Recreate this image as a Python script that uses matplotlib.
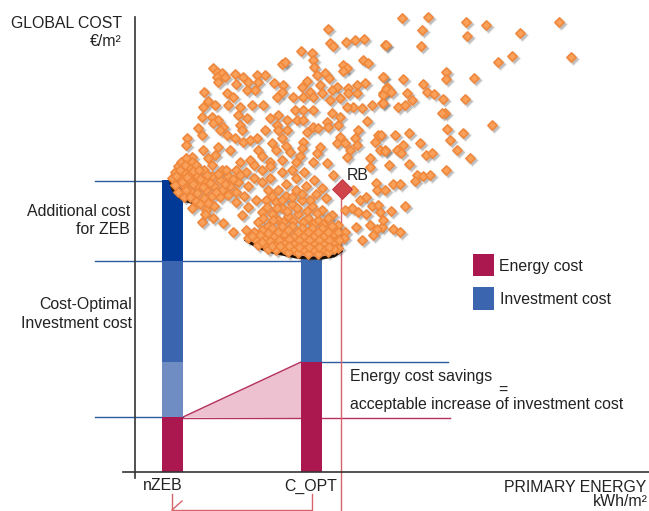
#!/usr/bin/env python3
"""Cost-optimal vs nZEB diagram: global cost cloud over primary energy."""
import matplotlib
matplotlib.use("Agg")
import matplotlib.pyplot as plt
from matplotlib.patches import Polygon, Rectangle

# -----------------------
# Data (image-like units, y grows downwards)
# -----------------------
cloud_sparse = [
    (328,29),(330,43),(333,46),(346,42),(355,40),(364,39),(385,45),(301,51),(312,53),(313,60),(314,67),
    (282,64),(285,62),(343,65),(347,68),(343,71),(363,60),(368,63),(383,77),(213,68),(217,72),(222,73),
    (217,77),(225,77),(218,82),(235,74),(236,84),(243,77),(248,82),(257,75),(265,75),(258,82),(247,90),
    (255,90),(274,83),(283,85),(282,92),(277,97),(307,81),(302,87),(317,75),(325,73),(329,78),(320,85),
    (337,87),(332,90),(310,92),(322,93),(293,97),(303,97),(313,97),(330,100),(340,98),(348,88),(357,85),
    (365,83),(357,93),(348,93),(383,93),(387,87),(382,103),(372,105),(362,108),(353,107),(347,107),(367,121),
    (204,92),(203,107),(208,101),(215,105),(202,117),(212,117),(218,120),(213,123),(223,127),(220,130),
    (227,135),(235,138),(243,142),(250,140),(257,138),(227,93),(233,97),(228,105),(240,107),(252,105),
    (263,105),(238,115),(247,118),(240,125),(242,130),(198,128),(202,135),(187,138),(186,145),(270,118),
    (278,115),(287,120),(295,110),(303,110),(297,120),(303,120),(313,110),(313,127),(318,128),(327,122),
    (332,113),(340,117),(338,125),(328,127),(277,125),(265,130),(287,130),(278,130),(282,138),(272,143),
    (307,132),(358,130),(355,138),(378,135),(375,142),(380,150),(385,150),(340,137),(337,143),(345,143),
    (350,150),(347,157),(357,145),(303,142),(302,148),(320,147),(317,153),(313,162),(327,163),(333,175),
    (370,158),(370,167),(376,183),(377,190),(230,150),(218,147),(215,155),(203,150),(208,158),(192,157),
    (402,18),(428,17),(466,22),(486,25),(559,22),(422,30),(467,36),(520,33),(386,45),(421,46),(512,56),
    (498,62),(571,57),(383,77),(403,79),(446,72),(446,79),(474,78),(423,84),(427,92),(434,94),(443,99),
    (465,99),(386,89),(391,92),(383,95),(407,93),(412,100),(383,103),(398,107),(405,105),(445,113),(442,113),
    (447,129),(463,133),(492,125),(381,135),(395,135),(409,133),(420,143),(450,140),(457,150),(470,158),
    (385,151),(397,150),(403,145),(401,153),(426,155),(432,153),(389,165),(409,164),(446,170),(417,175),
    (415,181),(423,176),(430,175),(393,184),(400,184),(405,206),(391,211),(382,227),(393,229),(400,232),
    (380,212),(353,190),(360,200),(366,197),(372,206),(352,208),(345,210),(358,212),(366,214),(378,205),
    (356,227),(370,225),(377,229),(383,220),(373,235),(362,240),(385,190),
]
cloud_dense = [
    # left lobe
    (172,178),(175,172),(178,166),(181,162),(186,158),(192,162),(175,185),(180,178),(184,172),(190,168),
    (196,165),(204,170),(212,165),(222,170),(178,192),(184,186),(190,180),(196,175),(204,180),(212,176),
    (220,180),(228,176),(236,170),(184,197),(191,192),(198,186),(206,190),(214,186),(222,190),(230,186),
    (238,182),(196,201),(204,198),(212,196),(220,197),(228,195),(236,192),(192,208),(206,210),(214,206),
    (202,222),(213,218),(223,223),(233,232),(242,215),(248,207),(256,200),(244,196),(248,186),(254,178),
    (246,172),(254,165),(262,170),(270,162),(262,182),(270,178),(205,214),(236,202),
    # left lobe, tight fill
    (176,176),(180,170),(185,165),(190,174),(182,182),(187,177),(193,171),(199,170),(186,190),(193,184),
    (200,179),(207,175),(190,197),(197,193),(203,187),(210,183),(200,204),(208,203),(216,192),(225,184),
    (233,179),(240,175),(218,174),(226,170),
    # middle
    (268,190),(278,190),(286,184),(296,178),(304,172),(314,180),(322,188),(266,200),(276,202),(286,196),
    (296,190),(306,186),(316,194),(326,198),(262,212),(272,214),(282,208),(292,204),(302,200),
    (312,206),(322,210),(332,215),(258,222),(268,226),(278,220),(288,216),(298,214),(308,218),
    (318,220),(328,218),(338,225),(345,232),(270,166),(282,160),(290,152),(296,162),(282,172),(276,150),
    (258,150),(250,160),(240,162),(286,146),(262,156),(300,156),(292,170),
    (272,196),(282,200),(292,197),(302,194),(310,200),(267,207),(277,208),(287,211),(297,208),(307,211),
    (317,213),(263,218),(273,220),(283,222),(293,221),(303,222),(313,224),(323,224),
    # bottom rim
    (246,230),(254,232),(262,230),(272,228),(282,226),(292,226),(302,228),(312,228),(322,228),(332,226),
    (248,238),(256,240),(264,238),(274,236),(284,234),(294,236),(304,236),(314,236),(324,236),
    (334,234),(344,238),(258,245),(266,246),(274,244),(284,242),(294,244),(304,244),(314,244),(324,244),
    (334,242),(338,248),(268,249),(276,250),(284,249),(294,250),(304,250),(314,250),(324,250),(334,249),
    (288,252),(298,253),(308,254),(318,254),(328,252),
    (252,236),(260,235),(268,233),(278,232),(288,230),(298,232),(308,232),(318,232),(328,232),(338,232),
    (262,242),(270,241),(279,240),(289,239),(299,240),(309,240),(319,240),(329,240),(339,240),(272,246),
    (280,246),(289,246),(299,247),(309,247),(319,247),(329,247),
]
rim_x = [170, 173, 179, 186, 194]
rim_y = [180, 190, 197, 201, 203]
rim2_x = [246, 256, 268, 282, 296, 310, 322, 334, 341]
rim2_y = [240, 246, 251, 254, 257, 258, 258, 256, 251]

nzeb_segments = [(180, 261, "#003a96"), (261, 362, "#3b65ae"), (362, 417, "#6f8dc2"), (417, 472, "#ab1850")]
copt_segments = [(258, 362, "#3b69b0"), (362, 472, "#ab1850")]
BLUE_LINE = "#2d5a9e"
RED_LINE = "#d9636b"

# -----------------------
# Figure on a picture-sized canvas
# -----------------------
plt.rcParams["font.family"] = ["Liberation Sans", "DejaVu Sans"]
fig = plt.figure(figsize=(6.49, 5.11), dpi=100)
ax = fig.add_axes([0, 0, 1, 1])
ax.set_xlim(0, 649)
ax.set_ylim(511, 0)
ax.axis("off")

# bars
for top, bottom, colour in nzeb_segments:
    ax.add_patch(Rectangle((162, top), 21, bottom - top, fc=colour, ec="none", zorder=3))
for top, bottom, colour in copt_segments:
    ax.add_patch(Rectangle((301, top), 21, bottom - top, fc=colour, ec="none", zorder=3))

# savings wedge
ax.add_patch(Polygon([(183, 417), (301, 362), (301, 418)], fc="#edc1d0", ec="none", zorder=1))
ax.plot([183, 301], [417, 362], color="#b5315f", lw=1, zorder=2)

# guide lines
for y, x0, x1 in [(181, 95, 165), (261, 95, 305), (417, 95, 183), (362, 321, 448)]:
    ax.plot([x0, x1], [y, y], color=BLUE_LINE, lw=1, zorder=2)
ax.plot([183, 450], [418, 418], color="#b5315f", lw=1, zorder=2)

# axes
ax.plot([135, 135], [17, 478], color="#333333", lw=1.2, zorder=4)
ax.plot([123, 649], [472, 472], color="#333333", lw=1.2, zorder=4)

# reference building drop line and bracket
ax.plot([341, 341], [190, 511], color=RED_LINE, lw=1, zorder=2)
ax.plot([172, 172, 312, 312], [494, 510, 510, 494], color=RED_LINE, lw=1, zorder=4)
ax.plot([172, 182], [510, 501], color=RED_LINE, lw=1, zorder=4)

# cloud: soft shadow, then the points
sparse_x = [p[0] for p in cloud_sparse]
sparse_y = [p[1] for p in cloud_sparse]
dense_x = [p[0] for p in cloud_dense]
dense_y = [p[1] for p in cloud_dense]
all_x = sparse_x + dense_x
all_y = sparse_y + dense_y
ax.scatter([x + 1.5 for x in all_x], [y + 2 for y in all_y], s=52, marker="D", color="#666666",
           alpha=0.10, linewidths=0, zorder=5)
ax.scatter([x + 1.5 for x in all_x], [y + 2 for y in all_y], s=32, marker="D", color="#444444",
           alpha=0.28, linewidths=0, zorder=5)
ax.plot(rim_x, rim_y, color="#3a1d05", lw=2, zorder=5)
ax.plot(rim2_x, rim2_y, color="#1c0e02", lw=2.2, zorder=5)
ax.scatter(all_x, all_y, s=22, marker="D", color="#f9a05a", edgecolors="#f0883c", linewidths=1.2,
           joinstyle="round", zorder=6)

# reference building marker
ax.scatter([342], [189], s=100, marker="D", color="#d0444c", edgecolors="#c23a44", linewidths=0.8, zorder=7)

# legend
ax.add_patch(Rectangle((473, 254), 21, 22, fc="#ab1850", ec="none"))
ax.add_patch(Rectangle((473, 287), 21, 23, fc="#3b65ae", ec="none"))

# text
FS = 11.4
TC = "#222222"
ax.text(122, 24, "GLOBAL COST", ha="right", va="center", fontsize=FS, color=TC)
ax.text(122, 41, "€/m²", ha="right", va="center", fontsize=FS, color=TC)
ax.text(130, 212, "Additional cost", ha="right", va="center", fontsize=FS, color=TC)
ax.text(130, 230, "for ZEB", ha="right", va="center", fontsize=FS, color=TC)
ax.text(132, 305, "Cost-Optimal", ha="right", va="center", fontsize=FS, color=TC)
ax.text(132, 323, "Investment cost", ha="right", va="center", fontsize=FS, color=TC)
ax.text(347, 175, "RB", ha="left", va="center", fontsize=FS, color=TC, zorder=8)
ax.text(499, 266, "Energy cost", ha="left", va="center", fontsize=FS, color=TC)
ax.text(500, 300, "Investment cost", ha="left", va="center", fontsize=FS, color=TC)
ax.text(350, 377, "Energy cost savings", ha="left", va="center", fontsize=FS, color=TC)
ax.text(503, 390, "=", ha="center", va="center", fontsize=FS, color=TC)
ax.text(350, 405, "acceptable increase of investment cost", ha="left", va="center", fontsize=FS, color=TC)
ax.text(163, 486, "nZEB", ha="center", va="center", fontsize=FS, color=TC)
ax.text(311, 486, "C_OPT", ha="center", va="center", fontsize=FS, color=TC)
ax.text(646, 488, "PRIMARY ENERGY", ha="right", va="center", fontsize=FS, color=TC)
ax.text(648, 502, "kWh/m²", ha="right", va="center", fontsize=FS, color=TC)

fig.savefig("out.png", dpi=100)
